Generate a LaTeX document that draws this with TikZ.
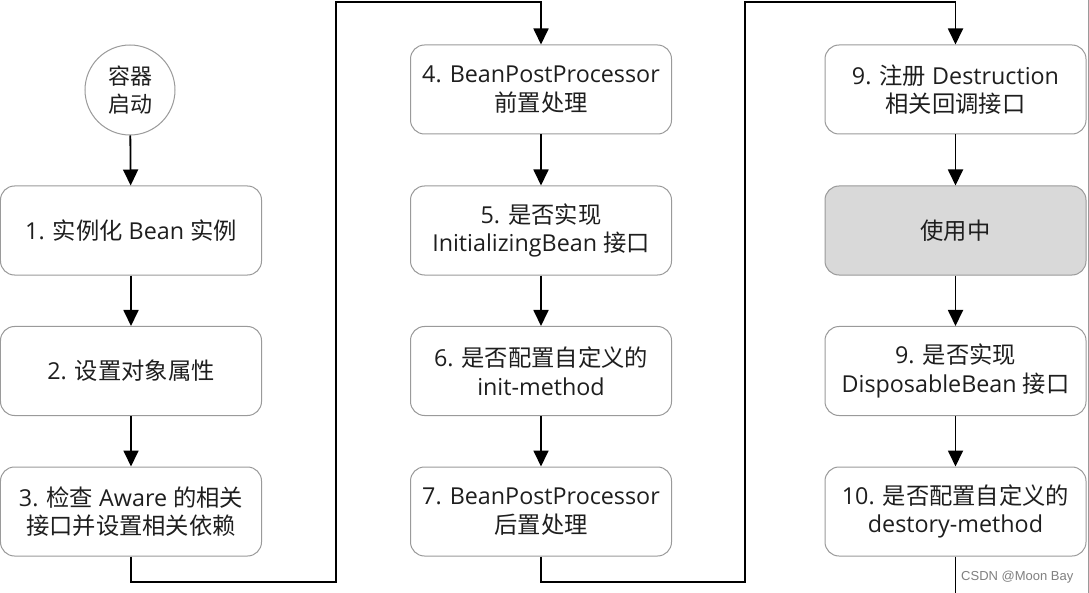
\documentclass[tikz,border=0pt]{standalone}
\usepackage{fontspec}
\setmainfont{Open Sans}
\newfontfamily\cjk{Noto Sans CJK SC}
\newfontfamily\wmfont{Liberation Sans}
\usetikzlibrary{arrows.meta}
\definecolor{boxline}{HTML}{9A9A9A}
\definecolor{txt}{HTML}{1E1E1E}
\definecolor{usefill}{HTML}{D9D9D9}
\tikzset{
  box/.style={draw=boxline, line width=1bp, rounded corners=14bp, minimum width=261bp, minimum height=89bp,
    align=center, text=txt, font=\fontsize{23.3bp}{28.5bp}\selectfont, inner sep=0pt},
  startc/.style={draw=boxline, line width=1bp, circle, minimum size=90bp, align=center, text=txt,
    font=\fontsize{22bp}{28bp}\selectfont, inner sep=0pt},
  arr/.style={line width=1.8bp, black, -{Triangle[length=16bp,width=15bp]}},
}
\begin{document}
\begin{tikzpicture}[x=1bp,y=-1bp]
\useasboundingbox (0,0) rectangle (1089,593);
\clip (0,0) rectangle (1089,593);
\fill[white] (0,0) rectangle (1089,593);
\draw[boxline, line width=1bp] (1088.5,0) -- (1088.5,593);
% column 1
\node[startc] (s) at (130,90) {{\cjk 容器}\\{\cjk 启动}};
\node[box] (b1) at (131,230.5) {1. {\cjk 实例化} Bean {\cjk 实例}};
\node[box] (b2) at (131,371) {2. {\cjk 设置对象属性}};
\node[box] (b3) at (131,511.5) {3. {\cjk 检查} Aware {\cjk 的相关}\\{\cjk 接口并设置相关依赖}};
% column 2
\node[box] (b4) at (541,89.5) {4. BeanPostProcessor\\{\cjk 前置处理}};
\node[box] (b5) at (541,230.5) {5. {\cjk 是否实现}\\InitializingBean {\cjk 接口}};
\node[box] (b6) at (541,371) {6. {\cjk 是否配置自定义的}\\init-method};
\node[box] (b7) at (541,511.5) {7. BeanPostProcessor\\{\cjk 后置处理}};
% column 3
\node[box] (b9) at (955.5,89.5) {9. {\cjk 注册} Destruction\\{\cjk 相关回调接口}};
\node[box, fill=usefill] (bu) at (955.5,230.5) {{\cjk 使用中}};
\node[box] (b9b) at (955.5,371) {9. {\cjk 是否实现}\\DisposableBean {\cjk 接口}};
\node[box] (b10) at (955.5,511.5) {10. {\cjk 是否配置自定义的}\\destory-method};
% connectors
\coordinate (k1) at (336,582);
\coordinate (k2) at (541,2);
\coordinate (k3) at (745,582);
\coordinate (k4) at (955.5,2);
\coordinate (kend) at (955.5,612);
\draw[arr] (s) -- (b1);
\draw[arr] (b1) -- (b2);
\draw[arr] (b2) -- (b3);
\draw[arr] (b3.south) |- (k1) |- (k2) -- (b4.north);
\draw[arr] (b4) -- (b5);
\draw[arr] (b5) -- (b6);
\draw[arr] (b6) -- (b7);
\draw[arr] (b7.south) |- (k3) |- (k4) -- (b9.north);
\draw[arr] (b9) -- (bu);
\draw[arr] (bu) -- (b9b);
\draw[arr] (b9b) -- (b10);
\draw[arr] (b10.south) -- (kend);
\node[anchor=west, text=gray, font=\wmfont\fontsize{13bp}{15bp}\selectfont, inner sep=0pt] (wm) at (961,577) {CSDN @Moon Bay};
\end{tikzpicture}
\end{document}
